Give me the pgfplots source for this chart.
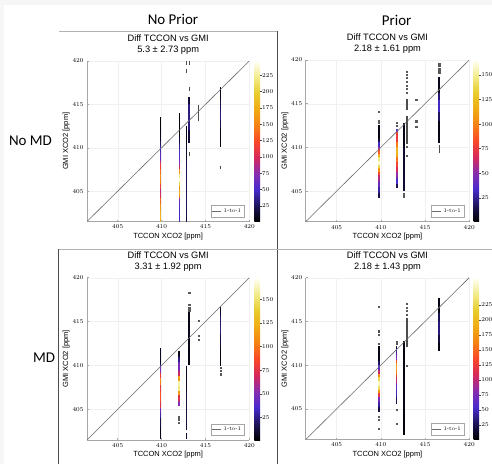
\documentclass[border=0pt]{standalone}
\usepackage{fontspec}
\newfontfamily\sansf{Liberation Sans}
\newfontfamily\hdr{Carlito}
\usepackage{pgfplots}
\pgfplotsset{compat=1.18}

\pgfplotsset{
  colormap={therm}{rgb255(0)=(0,0,0) rgb255(10)=(28,20,90) rgb255(20)=(72,42,205)
    rgb255(30)=(135,45,175) rgb255(40)=(215,40,90) rgb255(50)=(250,72,40)
    rgb255(60)=(245,130,20) rgb255(70)=(240,172,20) rgb255(80)=(232,205,45)
    rgb255(90)=(242,236,140) rgb255(100)=(255,255,250)},
  panel/.style={
    scale only axis, anchor=south west,
    xmin=401.5, xmax=420, ymin=401.5, ymax=420,
    xtick={405,410,415,420}, ytick={405,410,415,420},
    axis lines*=left, axis line style={gray!70, line width=0.7bp},
    tick style={gray!70, line width=0.5bp}, tick align=inside, major tick length=2bp,
    grid=major, grid style={gray!12, line width=0.4bp},
    ticklabel style={font=\fontsize{6}{6}\selectfont},
    xlabel={TCCON XCO2 [ppm]}, ylabel={GMI XCO2 [ppm]},
    xlabel shift=-3bp, ylabel shift=-4bp,
    label style={font=\sansf\fontsize{7.5}{8}\selectfont},
    title style={at={(0.5,1)}, anchor=south, yshift=0.5bp, inner sep=0pt,
      align=center, font=\sansf\fontsize{9.3}{10.5}\selectfont},
    colormap name=therm, colorbar,
    colorbar shift/.style={xshift=5bp},
    colorbar style={width=5.7bp, at={(parent axis.north east)}, anchor=north west,
      axis line style={draw=none}, ytick pos=right,
      tick style={black!70, line width=0.5bp}, major tick length=1.5bp, tick align=outside,
      yticklabel style={font=\fontsize{6}{6}\selectfont, inner sep=0.5bp}},
    legend style={at={(1,0)}, anchor=south east, xshift=-5bp, yshift=4.5bp,
      draw=gray!70, fill=white, font=\fontsize{5.5}{6}\selectfont, inner sep=1.2bp},
    legend image code/.code={\draw[#1] (0bp,0bp) -- (9bp,0bp);},
    unbounded coords=jump,
  },
  stripe/.style={mesh, point meta=explicit, line width=1.5bp, forget plot},
  seg/.style={black!70, line width=1.3bp, forget plot},
  dots/.style={only marks, mark=square*, mark size=0.55bp, black!65, forget plot},
  one/.style={gray!85!black, line width=0.6bp},
}

\begin{document}
\begin{tikzpicture}
\useasboundingbox (0,0) rectangle (492bp,-464bp);
\fill[gray!7] (0,0) rectangle (492bp,-464bp);
\fill[white] (4bp,-5bp) rectangle (492bp,-464bp);

\node[font=\hdr\fontsize{15}{15}\selectfont] at (173bp,-19bp) {No Prior};
\node[font=\hdr\fontsize{15}{15}\selectfont] at (396.7bp,-20bp) {Prior};
\node[font=\hdr\fontsize{15}{15}\selectfont] at (30.5bp,-141bp) {No MD};
\node[font=\hdr\fontsize{15}{15}\selectfont] at (44bp,-358bp) {MD};

\draw[gray!60, line width=0.8bp] (59bp,-31bp) -- (277.7bp,-31bp);
\draw[black!70, line width=0.8bp] (277.7bp,-31bp) -- (277.7bp,-464bp);
\draw[gray!60, line width=0.8bp] (58bp,-249bp) -- (492bp,-249bp);
\draw[black!70, line width=0.8bp] (58.3bp,-249bp) -- (58.3bp,-464bp);

% ---- No MD, No Prior
\begin{axis}[panel, at={(87bp,-221.5bp)}, width=162.3bp, height=160.5bp,
  point meta min=1, point meta max=247,
  colorbar style={ytick={25,50,...,225}},
  title={Diff TCCON vs GMI\\5.3 ± 2.73 ppm}]
\addplot[stripe] coordinates {(409.85,413.5)[3] (409.85,411.8)[4] (409.85,410.8)[12]
  (409.85,410.2)[40] (409.85,409.4)[50] (409.85,408.6)[65] (409.85,408.2)[105]
  (409.85,407.6)[125] (409.85,407.0)[150] (409.85,406.4)[165] (409.85,405.8)[130]
  (409.85,405.3)[100] (409.85,404.8)[80] (409.85,404.2)[125] (409.85,403.5)[150]
  (409.85,402.8)[170] (409.85,402.2)[180] (409.85,401.5)[175]};
\addplot[stripe] coordinates {(412.02,414.0)[3] (412.02,411.2)[5] (412.02,410.6)[25]
  (412.02,409.8)[45] (412.02,408.8)[60] (412.02,408.0)[80] (412.02,407.5)[110]
  (412.02,407.0)[200] (412.02,406.5)[240] (412.02,406.0)[230] (412.02,405.6)[170]
  (412.02,405.0)[150] (412.02,404.6)[200] (412.02,404.2)[90] (412.02,403.6)[55]
  (412.02,402.8)[50] (412.02,401.5)[45]};
\addplot[stripe] coordinates {(412.84,412.5)[3] (412.84,410.5)[8] (412.84,408.5)[20]
  (412.84,405)[25] (412.84,403)[22] (412.84,401.5)[18]};
\addplot[stripe] coordinates {(413.15,415.9)[3] (413.15,415.0)[28] (413.15,413.5)[40]
  (413.15,412.0)[28] (413.15,410.5)[5]};
\addplot[stripe] coordinates {(416.69,416.98)[3] (416.69,415.5)[10] (416.69,414.5)[35]
  (416.69,413.2)[30] (416.69,412.2)[8] (416.69,410.05)[3]};
\addplot[seg] coordinates {(412.84,420) (412.84,419.5) (nan,nan) (412.84,419.1) (412.84,418.6)
  (nan,nan) (413.15,420) (413.15,419.5) (nan,nan) (413.15,417.05) (413.15,416.5)
  (nan,nan) (413.15,409.5) (413.15,409.05) (nan,nan) (414.19,414.97) (414.19,413.07)
  (nan,nan) (416.69,407.95) (416.69,407.5)};
\addplot[one] coordinates {(401.5,401.5) (420,420)};
\addlegendentry{1-to-1}
\end{axis}

% ---- No MD, Prior
\begin{axis}[panel, at={(305.7bp,-221.7bp)}, width=163.5bp, height=161.7bp,
  point meta min=1, point meta max=165,
  colorbar shift/.style={xshift=4.3bp},
  colorbar style={ytick={25,50,...,150}},
  title={Diff TCCON vs GMI\\2.18 ± 1.61 ppm}]
\addplot[stripe] coordinates {(409.8,412.6)[3] (409.8,411.0)[5] (409.8,410.6)[20]
  (409.8,410.1)[45] (409.8,409.7)[65] (409.8,409.3)[110] (409.8,408.9)[130]
  (409.8,408.5)[160] (409.8,408.0)[155] (409.8,407.6)[120] (409.8,407.2)[95]
  (409.8,406.8)[70] (409.8,406.2)[50] (409.8,405.5)[35] (409.8,404.8)[20] (409.8,404.2)[8]};
\addplot[stripe] coordinates {(411.83,412.07)[5] (411.83,411.8)[70] (411.83,410.6)[85]
  (411.83,410.0)[110] (411.83,409.4)[130] (411.83,408.9)[105] (411.83,408.3)[85]
  (411.83,407.8)[75] (411.83,407.2)[60] (411.83,406.5)[45] (411.83,405.8)[25] (411.83,405.3)[8]};
\addplot[stripe] coordinates {(412.6,412.8)[3] (412.6,410)[6] (412.6,407)[12] (412.6,405)[8]};
\addplot[stripe] coordinates {(416.6,418)[3] (416.6,416.2)[8] (416.6,415.4)[35]
  (416.6,414.0)[30] (416.6,413.0)[6] (416.6,410.5)[3]};
\addplot[seg] coordinates {(412.95,415.5) (412.95,414.3) (nan,nan) (412.95,413.6) (412.95,410.4)
  (nan,nan) (416.6,410.3) (416.6,409.4)};
\addplot[dots] coordinates {(409.8,414.1) (409.8,413.0) (409.8,412.8) (411.83,412.8)
  (411.83,412.5) (412.6,404.75) (412.6,404.55) (412.6,404.35) (412.95,418.65)
  (412.95,418.3) (412.95,417.95) (412.95,417.5) (412.95,417.1) (412.95,416.7)
  (412.95,416.25) (412.95,410.1) (412.95,409.1) (414,415.5) (414,413.0) (414,412.4)
  (416.6,419.6) (416.6,419.3) (416.6,418.95) (416.6,418.6)};
\addplot[one] coordinates {(401.5,401.5) (420,420)};
\addlegendentry{1-to-1}
\end{axis}

% ---- MD, No Prior
\begin{axis}[panel, at={(87bp,-440bp)}, width=162.3bp, height=162.3bp,
  point meta min=1, point meta max=173,
  colorbar style={ytick={25,50,...,150}},
  title={Diff TCCON vs GMI\\3.31 ± 1.92 ppm}]
\addplot[stripe] coordinates {(409.88,412)[3] (409.88,410.2)[10] (409.88,409.8)[40]
  (409.88,409.1)[60] (409.88,408.6)[100] (409.88,408.2)[120] (409.88,407.8)[90]
  (409.88,407.4)[60] (409.88,407.0)[100] (409.88,406.4)[80] (409.88,405.8)[95]
  (409.88,405.2)[55] (409.88,404.6)[40] (409.88,404.0)[20] (409.88,403.0)[8] (409.88,401.6)[3]};
\addplot[stripe] coordinates {(412,411.6)[3] (412,411.0)[10] (412,410.4)[40] (412,409.4)[55]
  (412,408.8)[80] (412,408.2)[150] (412,407.6)[170] (412,407.1)[140] (412,406.6)[90]
  (412,406.0)[60] (412,405.4)[45]};
\addplot[stripe] coordinates {(412.84,409.9)[5] (412.84,407)[12] (412.84,404)[15] (412.84,402.6)[12]};
\addplot[stripe] coordinates {(412.84,402.3)[10] (412.84,401.6)[8]};
\addplot[stripe] coordinates {(413.15,416.2)[3] (413.15,414)[8] (413.15,412)[6] (413.15,410.1)[3]};
\addplot[stripe] coordinates {(416.7,416.7)[3] (416.7,415.6)[10] (416.7,414.5)[30]
  (416.7,413.6)[20] (416.7,412)[5] (416.7,409.9)[3]};
\addplot[dots] coordinates {(412,404.1) (412,403.8) (412,403.5) (413.15,418.3) (413.15,416.9)
  (413.15,416.6) (413.15,416.3) (414.2,415.1) (414.2,413.4) (414.2,412.9)
  (416.7,409.7) (416.7,409.35) (416.7,409.0)};
\addplot[one] coordinates {(401.5,401.5) (420,420)};
\addlegendentry{1-to-1}
\end{axis}

% ---- MD, Prior
\begin{axis}[panel, at={(305.7bp,-439.5bp)}, width=163.5bp, height=161.8bp,
  point meta min=1, point meta max=270,
  colorbar shift/.style={xshift=4.3bp},
  colorbar style={ytick={25,50,...,225}},
  title={Diff TCCON vs GMI\\2.18 ± 1.43 ppm}]
\addplot[stripe] coordinates {(409.8,412.15)[3] (409.8,410.45)[10] (409.8,410)[50]
  (409.8,409.4)[70] (409.8,409)[130] (409.8,408.6)[200] (409.8,408.2)[250]
  (409.8,407.6)[262] (409.8,407.2)[200] (409.8,406.8)[150] (409.8,406.4)[90]
  (409.8,405.8)[60] (409.8,405.2)[30] (409.8,404.6)[10]};
\addplot[stripe] coordinates {(411.8,412.15)[5] (411.8,411.8)[30] (411.8,411.2)[60]
  (411.8,410.6)[100] (411.8,410.2)[170] (411.8,409.6)[190] (411.8,409.0)[150]
  (411.8,408.6)[120] (411.8,408.0)[80] (411.8,407.2)[60] (411.8,406.4)[40] (411.8,405.6)[10]};
\addplot[stripe] coordinates {(412.6,412.8)[3] (412.6,409)[8] (412.6,405)[6] (412.6,402.0)[3]};
\addplot[stripe] coordinates {(416.6,417.65)[3] (416.6,416)[10] (416.6,415)[40]
  (416.6,413.5)[30] (416.6,412.5)[8] (416.6,411.6)[3]};
\addplot[seg] coordinates {(409.8,414.0) (409.8,413.7) (nan,nan) (412.95,415.4) (412.95,412.05)};
\addplot[dots] coordinates {(409.8,416.7) (409.8,413.5) (409.8,412.5) (409.8,404.1)
  (409.8,403.8) (409.8,402.7) (411.8,412.7) (411.8,412.45) (411.8,404.9) (411.8,403.3)
  (412.95,417) (412.95,416.6) (412.95,416.2) (412.95,415.8) (412.95,409.9)};
\addplot[one] coordinates {(401.5,401.5) (420,420)};
\addlegendentry{1-to-1}
\end{axis}
\end{tikzpicture}
\end{document}
